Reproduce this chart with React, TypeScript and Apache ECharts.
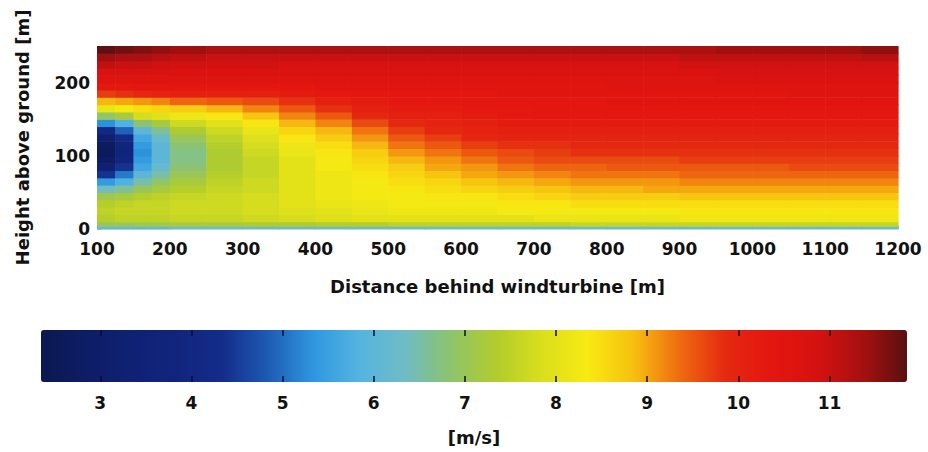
import React, { useEffect, useRef } from "react";
import * as echarts from "echarts";

// Grid of the measured field (cell edges, in metres)
const distanceEdges = [100, 125, 150, 175, 200, 250, 300, 350, 400, 450, 500, 550, 600, 650, 700, 750, 800, 850, 900, 950, 1000, 1050, 1100, 1150, 1200];
const heightEdges = [0, 4, 10, 20, 30, 40, 50, 60, 70, 80, 90, 100, 110, 120, 130, 140, 150, 160, 170, 180, 190, 200, 210, 220, 230, 240, 250];

// Axis ticks
const distanceTicks = [100, 200, 300, 400, 500, 600, 700, 800, 900, 1000, 1100, 1200];
const heightTicks = [0, 100, 200];
const speedTicks = [3, 4, 5, 6, 7, 8, 9, 10, 11];
const speedMin = 2.35;
const speedMax = 11.85;

// Wind speed [m/s], one profile per distance column, bottom -> top
const windSpeed = [
  [6.2, 7.0, 7.4, 7.5, 7.4, 7.1, 6.4, 5.4, 4.4, 3.4, 2.8, 2.6, 2.7, 3.2, 4.1, 5.3, 6.9, 8.1, 8.9, 9.7, 10.3, 10.6, 10.8, 11.1, 11.4, 11.8],
  [6.2, 7.0, 7.5, 7.6, 7.5, 7.2, 6.6, 5.8, 5.1, 4.4, 3.9, 3.7, 3.8, 4.2, 4.9, 5.8, 7.2, 8.3, 9.0, 9.8, 10.3, 10.6, 10.8, 11.0, 11.3, 11.7],
  [6.2, 7.1, 7.5, 7.6, 7.6, 7.4, 7.0, 6.5, 6.0, 5.6, 5.4, 5.3, 5.4, 5.6, 6.0, 6.8, 7.8, 8.5, 9.1, 9.9, 10.4, 10.6, 10.8, 11.0, 11.3, 11.6],
  [6.2, 7.1, 7.5, 7.6, 7.6, 7.5, 7.2, 6.9, 6.5, 6.2, 6.0, 6.0, 6.0, 6.2, 6.6, 7.2, 8.0, 8.6, 9.2, 10.0, 10.4, 10.6, 10.8, 10.9, 11.2, 11.5],
  [6.3, 7.2, 7.6, 7.7, 7.7, 7.6, 7.4, 7.2, 7.0, 6.8, 6.7, 6.7, 6.8, 7.0, 7.3, 7.7, 8.2, 8.7, 9.4, 10.1, 10.4, 10.6, 10.7, 10.9, 11.1, 11.4],
  [6.3, 7.2, 7.6, 7.7, 7.7, 7.7, 7.6, 7.5, 7.4, 7.3, 7.3, 7.3, 7.4, 7.5, 7.7, 8.0, 8.4, 8.9, 9.5, 10.1, 10.4, 10.6, 10.7, 10.9, 11.0, 11.3],
  [6.3, 7.3, 7.7, 7.8, 7.8, 7.8, 7.7, 7.7, 7.6, 7.6, 7.6, 7.7, 7.8, 7.9, 8.1, 8.4, 8.8, 9.2, 9.6, 10.1, 10.4, 10.6, 10.7, 10.9, 11.0, 11.3],
  [6.3, 7.3, 7.8, 7.9, 8.0, 8.0, 8.0, 8.0, 8.0, 8.0, 8.0, 8.1, 8.2, 8.4, 8.6, 8.9, 9.2, 9.5, 9.8, 10.2, 10.4, 10.6, 10.7, 10.8, 11.0, 11.3],
  [6.3, 7.4, 7.9, 8.0, 8.1, 8.2, 8.2, 8.2, 8.2, 8.3, 8.3, 8.4, 8.5, 8.7, 8.9, 9.2, 9.5, 9.8, 10.1, 10.3, 10.5, 10.6, 10.7, 10.8, 11.0, 11.3],
  [6.3, 7.4, 8.0, 8.1, 8.2, 8.3, 8.3, 8.3, 8.4, 8.5, 8.6, 8.7, 8.9, 9.1, 9.3, 9.6, 9.9, 10.1, 10.2, 10.4, 10.5, 10.6, 10.7, 10.8, 11.0, 11.3],
  [6.3, 7.5, 8.0, 8.2, 8.3, 8.3, 8.4, 8.5, 8.6, 8.7, 8.9, 9.1, 9.3, 9.5, 9.7, 9.9, 10.1, 10.2, 10.3, 10.4, 10.5, 10.6, 10.7, 10.8, 11.0, 11.3],
  [6.3, 7.5, 8.0, 8.2, 8.3, 8.4, 8.5, 8.6, 8.8, 9.0, 9.1, 9.3, 9.5, 9.7, 9.9, 10.0, 10.1, 10.2, 10.3, 10.4, 10.5, 10.6, 10.7, 10.8, 11.0, 11.3],
  [6.3, 7.5, 8.0, 8.2, 8.3, 8.4, 8.6, 8.8, 9.0, 9.1, 9.3, 9.5, 9.7, 9.9, 10.0, 10.1, 10.2, 10.3, 10.4, 10.4, 10.5, 10.6, 10.7, 10.8, 11.0, 11.3],
  [6.3, 7.5, 8.0, 8.3, 8.4, 8.5, 8.7, 8.9, 9.1, 9.3, 9.5, 9.6, 9.8, 10.0, 10.1, 10.2, 10.3, 10.3, 10.4, 10.5, 10.5, 10.6, 10.7, 10.8, 11.0, 11.3],
  [6.3, 7.5, 8.1, 8.3, 8.4, 8.6, 8.8, 9.0, 9.2, 9.4, 9.6, 9.7, 9.8, 10.0, 10.1, 10.2, 10.3, 10.4, 10.4, 10.5, 10.5, 10.6, 10.7, 10.8, 11.0, 11.3],
  [6.3, 7.6, 8.1, 8.3, 8.5, 8.7, 8.9, 9.1, 9.3, 9.4, 9.6, 9.8, 9.9, 10.0, 10.1, 10.2, 10.3, 10.4, 10.4, 10.5, 10.5, 10.6, 10.7, 10.8, 11.0, 11.3],
  [6.3, 7.6, 8.1, 8.3, 8.5, 8.7, 8.9, 9.1, 9.3, 9.5, 9.6, 9.8, 9.9, 10.0, 10.1, 10.2, 10.3, 10.4, 10.5, 10.5, 10.6, 10.6, 10.7, 10.8, 11.0, 11.3],
  [6.3, 7.6, 8.1, 8.3, 8.5, 8.7, 9.0, 9.1, 9.3, 9.5, 9.6, 9.8, 9.9, 10.0, 10.1, 10.2, 10.3, 10.4, 10.5, 10.5, 10.6, 10.6, 10.7, 10.8, 11.0, 11.3],
  [6.3, 7.6, 8.2, 8.4, 8.5, 8.8, 9.0, 9.2, 9.4, 9.5, 9.7, 9.8, 9.9, 10.0, 10.1, 10.2, 10.3, 10.4, 10.5, 10.5, 10.6, 10.6, 10.7, 10.9, 11.1, 11.3],
  [6.3, 7.6, 8.2, 8.4, 8.5, 8.8, 9.0, 9.2, 9.4, 9.5, 9.7, 9.8, 9.9, 10.0, 10.1, 10.2, 10.3, 10.4, 10.5, 10.5, 10.6, 10.7, 10.8, 10.9, 11.1, 11.4],
  [6.3, 7.6, 8.2, 8.4, 8.5, 8.8, 9.0, 9.2, 9.4, 9.5, 9.7, 9.8, 9.9, 10.0, 10.1, 10.2, 10.3, 10.4, 10.5, 10.5, 10.6, 10.7, 10.8, 10.9, 11.1, 11.4],
  [6.3, 7.6, 8.2, 8.4, 8.5, 8.8, 9.0, 9.2, 9.4, 9.6, 9.7, 9.8, 9.9, 10.0, 10.1, 10.2, 10.3, 10.4, 10.5, 10.6, 10.6, 10.7, 10.8, 10.9, 11.1, 11.4],
  [6.3, 7.6, 8.2, 8.4, 8.5, 8.8, 9.0, 9.2, 9.4, 9.6, 9.7, 9.8, 9.9, 10.0, 10.1, 10.2, 10.3, 10.4, 10.5, 10.6, 10.6, 10.7, 10.8, 10.9, 11.1, 11.4],
  [6.3, 7.6, 8.2, 8.4, 8.5, 8.8, 9.0, 9.2, 9.4, 9.6, 9.7, 9.8, 9.9, 10.0, 10.1, 10.2, 10.3, 10.4, 10.5, 10.6, 10.6, 10.7, 10.8, 10.9, 11.2, 11.5],
];

// Colour scale, evenly spaced from speedMin to speedMax
const colormap = [
  "#0b1850", "#0d1d66", "#0f2174", "#11257e", "#142d8a",
  "#1e5cb4", "#2f98e0", "#55b4e0", "#6fbcc4", "#8ec46a",
  "#b2cc2c", "#dadf1c", "#f8ea12", "#f7c010", "#ef6c10",
  "#e42a10", "#e41610", "#d61210", "#a81010", "#581010",
];

const FONT = "DejaVu Sans";
const INK = "#111111";

export default function App() {
  const ref = useRef<HTMLDivElement>(null);

  useEffect(() => {
    if (!ref.current) return;
    const chart = echarts.init(ref.current, null, { renderer: "svg" });

    const cells: number[][] = [];
    windSpeed.forEach((col, i) => {
      col.forEach((v, j) => {
        cells.push([distanceEdges[i], distanceEdges[i + 1], heightEdges[j], heightEdges[j + 1], v]);
      });
    });

    const plain = (v: number) => String(v);
    const labelStyle = { fontFamily: FONT, fontWeight: "bold" as const, fontSize: 17, color: INK };
    const nameStyle = { fontFamily: FONT, fontWeight: "bold" as const, fontSize: 18, color: INK };
    const barTick = { show: true, inside: true, length: 6, lineStyle: { color: "rgba(10,10,50,0.75)", width: 2 }, customValues: speedTicks };

    chart.setOption({
      animation: false,
      backgroundColor: "#ffffff",
      grid: [
        { left: 97, right: 30, top: 46, height: 183, containLabel: false },
        { left: 41, width: 866, top: 330, height: 52, containLabel: false, z: 10 },
      ],
      xAxis: [
        {
          type: "value",
          gridIndex: 0,
          min: 100,
          max: 1200,
          interval: 100,
          axisLine: { show: false },
          axisTick: { show: true, inside: true, length: 4, lineStyle: { color: "#b8c4d8", width: 1 }, customValues: distanceTicks },
          axisLabel: { ...labelStyle, margin: 11, customValues: distanceTicks, formatter: plain },
          splitLine: { show: false },
          name: "Distance behind windturbine [m]",
          nameLocation: "middle",
          nameGap: 48,
          nameTextStyle: nameStyle,
        },
        {
          type: "value",
          gridIndex: 1,
          min: speedMin,
          max: speedMax,
          position: "bottom",
          zlevel: 1,
          z: 20,
          axisLine: { show: false },
          axisTick: barTick,
          axisLabel: { ...labelStyle, margin: 12, customValues: speedTicks, formatter: plain },
          splitLine: { show: false },
          name: "[m/s]",
          nameLocation: "middle",
          nameGap: 46,
          nameTextStyle: nameStyle,
        },
        {
          type: "value",
          gridIndex: 1,
          min: speedMin,
          max: speedMax,
          position: "top",
          zlevel: 1,
          z: 20,
          axisLine: { show: false },
          axisTick: barTick,
          axisLabel: { show: false },
          splitLine: { show: false },
        },
      ],
      yAxis: [
        {
          type: "value",
          gridIndex: 0,
          min: 0,
          max: 250,
          axisLine: { show: false },
          axisTick: { show: true, inside: true, length: 4, lineStyle: { color: "#b8c4d8", width: 1 }, customValues: heightTicks },
          axisLabel: { ...labelStyle, margin: 7, customValues: heightTicks, formatter: plain },
          splitLine: { show: false },
          name: "Height above ground [m]",
          nameLocation: "middle",
          nameRotate: 90,
          nameGap: 66,
          nameTextStyle: nameStyle,
        },
        {
          type: "value",
          gridIndex: 1,
          min: 0,
          max: 1,
          show: false,
        },
      ],
      visualMap: {
        type: "continuous",
        min: speedMin,
        max: speedMax,
        dimension: 4,
        seriesIndex: 0,
        orient: "horizontal",
        left: 41,
        top: 330,
        itemWidth: 52,
        itemHeight: 866,
        padding: 0,
        calculable: false,
        hoverLink: false,
        realtime: false,
        inRange: { color: colormap },
      },
      series: [
        {
          type: "custom",
          xAxisIndex: 0,
          yAxisIndex: 0,
          encode: { x: [0, 1], y: [2, 3] },
          data: cells,
          renderItem: (params: any, api: any) => {
            const a = api.coord([api.value(0), api.value(3)]);
            const b = api.coord([api.value(1), api.value(2)]);
            return {
              type: "rect",
              shape: { x: a[0], y: a[1], width: b[0] - a[0] + 0.6, height: b[1] - a[1] + 0.6 },
              style: { fill: api.visual("color") },
            };
          },
        },
      ],
    });

    return () => chart.dispose();
  }, []);

  return (
    <div
      ref={ref}
      style={{ position: "fixed", left: 0, top: 0, width: 928, height: 452, background: "#fff" }}
    />
  );
}
